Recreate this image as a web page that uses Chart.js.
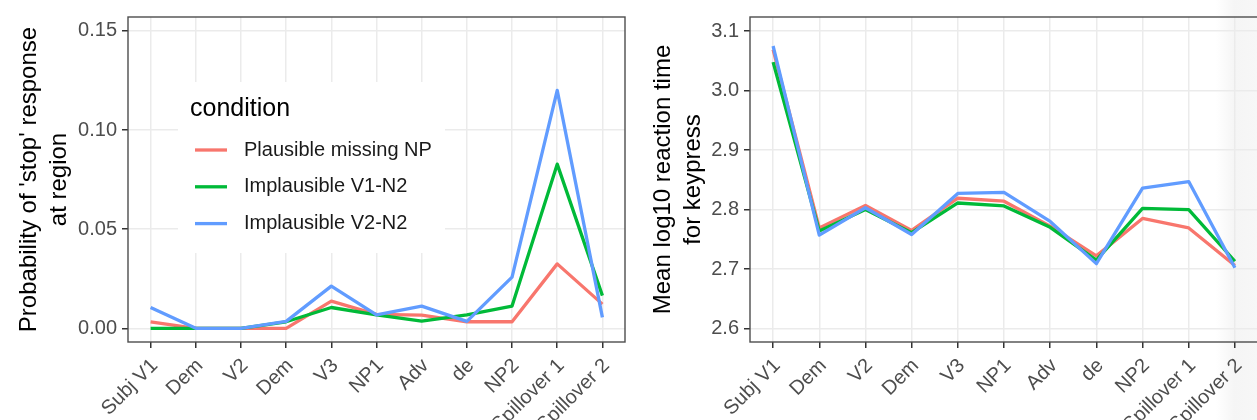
<!DOCTYPE html>
<html>
<head>
<meta charset="utf-8">
<script src="https://cdn.jsdelivr.net/npm/chart.js@4.4.1/dist/chart.umd.min.js"></script>
<style>
body{margin:0;width:1257px;height:420px;overflow:hidden;background:#fff;position:relative;}
#shade{position:absolute;left:1216px;top:0;width:41px;height:420px;background:linear-gradient(to right,rgba(244,244,244,0),#f5f5f5 45%,#f7f7f7);}
#leftWrap{position:absolute;left:0;top:0;}
#rightWrap{position:absolute;left:640px;top:0;}
canvas{filter:blur(0.3px);}
</style>
</head>
<body>
<div id="shade"></div>
<div id="leftWrap"><canvas id="stopChart" width="640" height="420"></canvas></div>
<div id="rightWrap"><canvas id="rtChart" width="630" height="420"></canvas></div>
<script>
// regions of the sentence (x axis of both panels)
const regions = ['Subj V1','Dem','V2','Dem','V3','NP1','Adv','de','NP2','Spillover 1','Spillover 2'];
const conditions = ['Plausible missing NP','Implausible V1-N2','Implausible V2-N2'];

// left panel: probability of 'stop' response
const stopPlausible = [0.0033,0,0,0,0.0137,0.0070,0.0067,0.0033,0.0033,0.0325,0.0122];
const stopV1N2     = [0,0,0,0.0033,0.0105,0.0068,0.0036,0.0068,0.0112,0.0828,0.0165];
const stopV2N2     = [0.0105,0,0,0.0035,0.0213,0.0068,0.0112,0.0035,0.0258,0.1200,0.0055];
const stopTicks = [0,0.05,0.10,0.15];

// right panel: mean log10 RT
const rtPlausible = [3.069,2.769,2.807,2.765,2.819,2.814,2.772,2.722,2.785,2.769,2.706];
const rtV1N2      = [3.048,2.764,2.800,2.761,2.811,2.806,2.770,2.715,2.802,2.800,2.713];
const rtV2N2      = [3.075,2.757,2.803,2.758,2.827,2.829,2.780,2.709,2.836,2.847,2.702];
const rtTicks = [2.6,2.7,2.8,2.9,3.0,3.1];

const colors = ['#F8766D','#00BA38','#619CFF'];
const family = '"Liberation Sans", Arial, sans-serif';

function makeDatasets(series){
  return series.map((data,i) => ({
    label: conditions[i],
    data: data,
    borderColor: colors[i],
    backgroundColor: colors[i],
    borderWidth: 3.3,
    pointRadius: 0,
    tension: 0,
    borderJoinStyle: 'round',
    order: series.length - i   // blue drawn last, like ggplot
  }));
}

// full box round the panel (theme_bw)
const panelBorder = {
  id: 'panelBorder',
  afterDraw(chart){
    const a = chart.chartArea, ctx = chart.ctx;
    ctx.save();
    ctx.strokeStyle = '#4d4d4d';
    ctx.lineWidth = 1.4;
    ctx.strokeRect(a.left, a.top, a.right - a.left, a.bottom - a.top);
    ctx.restore();
  }
};

// legend sitting inside the left panel
const insideLegend = {
  id: 'insideLegend',
  beforeDatasetsDraw(chart, args, opts){
    if(!opts.show) return;
    const a = chart.chartArea, ctx = chart.ctx;
    const x = a.left + opts.x, y = a.top + opts.y;
    ctx.save();
    ctx.fillStyle = '#fff';
    ctx.fillRect(x, y, opts.w, opts.h);
    ctx.fillStyle = '#000';
    ctx.textBaseline = 'middle';
    ctx.font = '25px ' + family;
    ctx.fillText('condition', x + 12, y + 27);
    ctx.font = '20px ' + family;
    chart.data.datasets.forEach((ds,i) => {
      const ly = y + 68 + i * 36.8;
      ctx.strokeStyle = ds.borderColor;
      ctx.lineWidth = 3.3;
      ctx.beginPath();
      ctx.moveTo(x + 17, ly);
      ctx.lineTo(x + 49, ly);
      ctx.stroke();
      ctx.fillStyle = '#1a1a1a';
      ctx.fillText(ds.label, x + 66, ly);
    });
    ctx.restore();
  }
};

function makeChart(id, series, yMin, yMax, tickVals, digits, axisWidth, titleText, titlePad, rightPad, legend){
  return new Chart(document.getElementById(id), {
    type: 'line',
    data: { labels: regions, datasets: makeDatasets(series) },
    options: {
      responsive: false,
      animation: false,
      layout: { padding: { top: 14, right: rightPad, left: 0, bottom: 0 } },
      plugins: {
        legend: { display: false },
        tooltip: { enabled: false },
        insideLegend: legend
      },
      scales: {
        x: {
          offset: true,
          afterFit: s => { s.height = 78; },
          border: { display: false },
          grid: { color: '#ebebeb', lineWidth: 1.5, tickColor: '#333', tickLength: 6 },
          ticks: { color: '#4d4d4d', font: { family: family, size: 20 }, minRotation: 45, maxRotation: 45, autoSkip: false, padding: 6, labelOffset: 4 }
        },
        y: {
          min: yMin,
          max: yMax,
          afterBuildTicks: s => { s.ticks = tickVals.map(v => ({ value: v })); },
          afterFit: s => { s.width = axisWidth; },
          border: { display: false },
          grid: { color: '#ebebeb', lineWidth: 1.5, tickColor: '#333', tickLength: 6 },
          ticks: { color: '#4d4d4d', font: { family: family, size: 20 }, padding: 5, callback: v => Number(v).toFixed(digits) },
          title: { display: true, text: titleText, color: '#000', font: { family: family, size: 24, lineHeight: 1.25 }, padding: { top: titlePad, bottom: 0 } }
        }
      }
    },
    plugins: [insideLegend, panelBorder]
  });
}

makeChart('stopChart', [stopPlausible, stopV1N2, stopV2N2], -0.0069, 0.157, stopTicks, 2, 128,
  ["Probability of 'stop' response", 'at region'], 14, 15,
  { show: true, x: 50, y: 65, w: 267, h: 171 });

makeChart('rtChart', [rtPlausible, rtV1N2, rtV2N2], 2.5772, 3.1238, rtTicks, 1, 110,
  ['Mean log10 reaction time', 'for keypress'], 8, 12,
  { show: false });
</script>
</body>
</html>
